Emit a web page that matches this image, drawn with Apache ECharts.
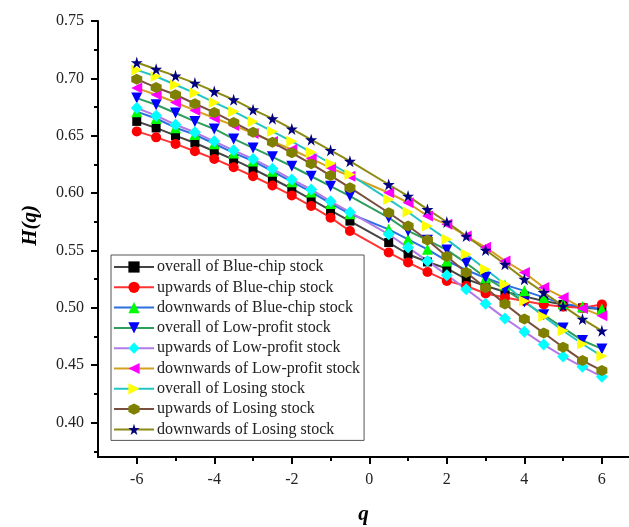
<!DOCTYPE html>
<html>
<head>
<meta charset="utf-8">
<script src="https://cdn.jsdelivr.net/npm/echarts@6/dist/echarts.min.js"></script>
<style>
html,body{margin:0;padding:0;background:#fff;}
#chart{width:629px;height:527px;}
</style>
</head>
<body>
<div id="chart"></div>
<script>
const qValues = [-6,-5.5,-5,-4.5,-4,-3.5,-3,-2.5,-2,-1.5,-1,-0.5,0.5,1,1.5,2,2.5,3,3.5,4,4.5,5,5.5,6];

const overallBlueChip   = [0.6625,0.6568,0.6501,0.6437,0.6365,0.6292,0.6212,0.6125,0.6038,0.5945,0.5849,0.5756, 0.5569,0.5467,0.5400,0.5343,0.5250,0.5190,0.5140,0.5100,0.5060,0.5030,0.5000,0.4990];
const upwardsBlueChip   = [0.6538,0.6486,0.6429,0.6365,0.6298,0.6225,0.6147,0.6066,0.5980,0.5887,0.5786,0.5670, 0.5482,0.5395,0.5313,0.5235,0.5190,0.5125,0.5090,0.5060,0.5030,0.5010,0.5000,0.5030];
const downwardsBlueChip = [0.6710,0.6650,0.6570,0.6510,0.6430,0.6350,0.6280,0.6190,0.6100,0.6010,0.5910,0.5820, 0.5684,0.5597,0.5510,0.5409,0.5330,0.5260,0.5200,0.5148,0.5091,0.5035,0.5010,0.4990];
const overallLowProfit  = [0.6828,0.6770,0.6698,0.6625,0.6559,0.6472,0.6394,0.6316,0.6234,0.6147,0.6060,0.5974, 0.5786,0.5670,0.5590,0.5505,0.5390,0.5265,0.5160,0.5050,0.4940,0.4825,0.4715,0.4642];
const upwardsLowProfit  = [0.6742,0.6675,0.6596,0.6530,0.6451,0.6373,0.6298,0.6212,0.6119,0.6032,0.5929,0.5834, 0.5641,0.5525,0.5409,0.5285,0.5163,0.5035,0.4908,0.4792,0.4680,0.4577,0.4486,0.4400];
const downwardsLowProfit= [0.6915,0.6857,0.6790,0.6721,0.6655,0.6590,0.6520,0.6450,0.6380,0.6300,0.6220,0.6147, 0.6003,0.5916,0.5800,0.5728,0.5626,0.5528,0.5409,0.5308,0.5177,0.5091,0.4995,0.4930];
const overallLosing     = [0.7074,0.7016,0.6944,0.6872,0.6790,0.6712,0.6625,0.6538,0.6451,0.6356,0.6258,0.6162, 0.5945,0.5835,0.5713,0.5597,0.5467,0.5337,0.5206,0.5060,0.4925,0.4800,0.4685,0.4580];
const upwardsLosing     = [0.6993,0.6920,0.6857,0.6779,0.6703,0.6616,0.6530,0.6443,0.6351,0.6255,0.6153,0.6047, 0.5829,0.5713,0.5591,0.5447,0.5308,0.5175,0.5033,0.4902,0.4781,0.4657,0.4540,0.4453];
const downwardsLosing   = [0.7138,0.7080,0.7022,0.6959,0.6886,0.6814,0.6727,0.6649,0.6559,0.6466,0.6373,0.6278, 0.6075,0.5974,0.5858,0.5748,0.5626,0.5504,0.5380,0.5250,0.5134,0.5015,0.4902,0.4800];

const seriesNames = [
  'overall of Blue-chip stock','upwards of Blue-chip stock','downwards of Blue-chip stock',
  'overall of Low-profit stock','upwards of Low-profit stock','downwards of Low-profit stock',
  'overall of Losing stock','upwards of Losing stock','downwards of Losing stock'
];
const seriesValues = [overallBlueChip,upwardsBlueChip,downwardsBlueChip,overallLowProfit,upwardsLowProfit,downwardsLowProfit,overallLosing,upwardsLosing,downwardsLosing];

const yMajorTicks = [0.40,0.45,0.50,0.55,0.60,0.65,0.70,0.75];
const yMinorTicks = [0.375,0.425,0.475,0.525,0.575,0.625,0.675,0.725];
const xMajorTicks = [-6,-4,-2,0,2,4,6];
const xMinorTicks = [-5,-3,-1,1,3,5];

const STAR = 'path://M50,0 L61,35 L98,35 L68,57 L79,91 L50,70 L21,91 L32,57 L2,35 L39,35 Z';
const HEX = 'path://M50,0 L93,25 L93,75 L50,100 L7,75 L7,25 Z';
const styles = [
  {line:'#444444', mark:'#000000', symbol:'rect', rot:0, size:9},
  {line:'#ff3333', mark:'#ff0000', symbol:'circle', rot:0, size:10},
  {line:'#2b6fe0', mark:'#00ff00', symbol:'triangle', rot:0, size:11},
  {line:'#2e9e5e', mark:'#0000ff', symbol:'triangle', rot:180, size:11},
  {line:'#b07be8', mark:'#00ffff', symbol:'diamond', rot:0, size:12},
  {line:'#d4a020', mark:'#ff00ff', symbol:'triangle', rot:90, size:11},
  {line:'#22c4c4', mark:'#ffff00', symbol:'triangle', rot:-90, size:11},
  {line:'#7a4e3e', mark:'#808000', symbol:HEX, rot:0, size:11},
  {line:'#8c8a12', mark:'#000080', symbol:STAR, rot:0, size:12}
];

const FONT = 'Liberation Serif';
const chart = echarts.init(document.getElementById('chart'), null, {renderer:'canvas'});

const series = seriesNames.map((name,i)=>({
  name: name,
  type: 'line',
  xAxisIndex: 0,
  yAxisIndex: 0,
  data: qValues.map((q,j)=>[q, seriesValues[i][j]]),
  symbol: styles[i].symbol,
  symbolRotate: styles[i].rot,
  symbolSize: styles[i].size,
  showAllSymbol: true,
  lineStyle: {color: styles[i].line, width: 2},
  itemStyle: {color: styles[i].mark, borderWidth: 0},
  emphasis: {disabled: true},
  animation: false
}));

const option = {
  animation: false,
  backgroundColor: '#ffffff',
  grid: {left: 98, right: 0, top: 21, bottom: 70, containLabel: false, outerBoundsMode: 'none'},
  legend: {
    orient: 'vertical',
    left: 111, top: 255,
    data: seriesNames,
    itemWidth: 40, itemHeight: 14, itemGap: 4.3,
    padding: [4, 4, 3, 2],
    backgroundColor: '#ffffff',
    borderColor: '#555555', borderWidth: 1,
    borderRadius: 0,
    symbolRotate: 'inherit',
    textStyle: {fontFamily: FONT, fontSize: 16, color: '#222222', padding: [0,0,0,-2]},
    selectedMode: false
  },
  xAxis: [{
    type: 'value', min: -7, max: 6.7,
    name: 'q', nameLocation: 'middle', nameGap: 47,
    nameTextStyle: {fontFamily: FONT, fontSize: 21, fontWeight: 'bold', fontStyle: 'italic', color: '#000'},
    axisLine: {show: true, onZero: false, lineStyle: {color: '#000', width: 2}},
    axisTick: {show: true, inside: false, length: 7, customValues: xMajorTicks, lineStyle: {color: '#000', width: 2}},
    axisLabel: {show: true, margin: 15, customValues: xMajorTicks, fontFamily: FONT, fontSize: 16, color: '#222', formatter: v => String(v)},
    splitLine: {show: false}
  },{
    type: 'value', min: -7, max: 6.7, position: 'bottom', offset: 0,
    axisLine: {show: false, onZero: false},
    axisTick: {show: true, inside: false, length: 4, customValues: xMinorTicks, lineStyle: {color: '#000', width: 2}},
    axisLabel: {show: false},
    splitLine: {show: false}
  }],
  yAxis: [{
    type: 'value', min: 0.37, max: 0.75,
    axisLine: {show: true, onZero: false, lineStyle: {color: '#000', width: 2}},
    axisTick: {show: true, inside: false, length: 7, customValues: yMajorTicks, lineStyle: {color: '#000', width: 2}},
    axisLabel: {show: true, margin: 14, customValues: yMajorTicks, fontFamily: FONT, fontSize: 16, color: '#222', formatter: v => v.toFixed(2)},
    splitLine: {show: false}
  },{
    type: 'value', min: 0.37, max: 0.75, position: 'left', offset: 0,
    axisLine: {show: false, onZero: false},
    axisTick: {show: true, inside: false, length: 4, customValues: yMinorTicks, lineStyle: {color: '#000', width: 2}},
    axisLabel: {show: false},
    splitLine: {show: false}
  }],
  graphic: [{
    type: 'text',
    left: 20, top: 205,
    rotation: Math.PI/2,
    style: {text: 'H(q)', font: 'italic bold 21px "Liberation Serif"', fill: '#000', textAlign: 'center', textVerticalAlign: 'middle'}
  }],
  series: series
};
chart.setOption(option);
</script>
</body>
</html>
